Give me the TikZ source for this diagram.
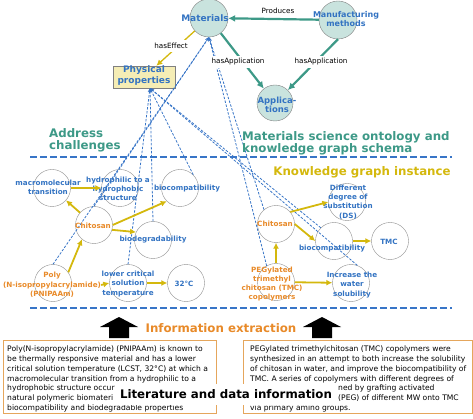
\documentclass[tikz,border=0pt]{standalone}
\usepackage{fontspec}
\setmainfont{DejaVu Sans}
\usetikzlibrary{arrows.meta,calc}
\definecolor{SchemaClr}{rgb}{0.24,0.6,0.53}
\definecolor{BlueTxt}{rgb}{0.2,0.45,0.76}
\definecolor{LinkClr}{rgb}{0.22,0.46,0.78}
\definecolor{OrangeTxt}{rgb}{0.91,0.54,0.16}
\definecolor{KgClr}{rgb}{0.83,0.72,0.05}
\definecolor{BubbleClr}{rgb}{0.79,0.89,0.87}
\definecolor{PropClr}{rgb}{0.96,0.93,0.71}
\definecolor{SrcClr}{rgb}{0.9,0.65,0.36}

\tikzset{
  schemanode/.style={circle,draw=gray,fill=BubbleClr,minimum size=38pt,inner sep=0pt},
  instnode/.style={circle,draw=gray!90,minimum size=37pt,inner sep=0pt},
  schematxt/.style={font=\bfseries\fontsize{8.5}{9.5}\selectfont,text=BlueTxt,align=center,inner sep=0pt},
  insttxt/.style={font=\bfseries\fontsize{7.2}{9.3}\selectfont,text=BlueTxt,align=center,inner sep=0pt},
  srctxt/.style={insttxt,text=OrangeTxt},
  relarrow/.style={-{Latex[length=7pt,width=7pt]},line width=2.2pt,SchemaClr},
  kgarrow/.style={-{Latex[length=6pt,width=6pt]},line width=1.8pt,KgClr},
  maplink/.style={-{Stealth[length=4pt,width=3.5pt]},LinkClr,line width=0.8pt,dash pattern=on 2.5pt off 1.5pt},
  sepline/.style={LinkClr,line width=1.5pt,dash pattern=on 7pt off 3pt},
  rellabel/.style={fill=white,inner xsep=1pt,inner ysep=3pt,font=\fontsize{7.2}{8}\selectfont},
  parttitle/.style={font=\bfseries\fontsize{11.8}{12.3}\selectfont,align=left,inner sep=0pt},
  srcbox/.style={draw=SrcClr,line width=0.9pt,anchor=north west,minimum height=73pt,inner sep=0pt},
  srcpara/.style={anchor=north west,align=left,inner sep=0pt,font=\fontsize{7.6}{9.7}\selectfont}
}

\begin{document}
\begin{tikzpicture}[x=1pt,y=-1pt]
\useasboundingbox (0,0) rectangle (473,419);

\node[schemanode] (mat) at (209,18) {};
\node[schemanode] (manu) at (338,20) {};
\node[schemanode,minimum size=36pt] (app) at (275,103) {};
\node[draw=gray,fill=PropClr,minimum width=62pt,minimum height=22pt,inner sep=0pt] (phys) at (144,77) {};
\coordinate (physIn) at ([xshift=6pt]phys.south);

\node[instnode] (macro) at (52,188) {};
\node[instnode] (hydro) at (120,188) {};
\node[instnode] (bioL) at (180,188) {};
\node[instnode] (chiL) at (94,225) {};
\node[instnode] (biodeg) at (153,240) {};
\node[instnode] (poly) at (53,283) {};
\node[instnode] (lcst) at (128,283) {};
\node[instnode] (deg) at (186,283) {};

\node[instnode] (dsub) at (347,202) {};
\node[instnode] (chiR) at (276,224) {};
\node[instnode] (bioR) at (334,241) {};
\node[instnode] (tmc) at (390,241) {};
\node[instnode] (peg) at (276,282) {};
\node[instnode] (solub) at (351,283) {};

\draw[maplink] (poly.north) -- (mat.south);
\draw[maplink] (chiL.north) -- (mat.south);
\draw[maplink] (chiR.130) -- (mat.south);
\draw[maplink] (peg.120) -- (mat.south);
\draw[maplink] (lcst.north) -- (physIn);
\draw[maplink] (biodeg.north) -- (physIn);
\draw[maplink] (bioL.north east) -- (physIn);
\draw[maplink] (bioR.north west) -- (physIn);
\draw[maplink] (solub.70) -- (physIn);

\draw[relarrow] (manu) -- (mat);
\draw[relarrow] (mat) -- (app);
\draw[relarrow] (manu.south) -- (app.north east);
\draw[-{Latex[length=6pt,width=6pt]},line width=1.3pt,KgClr] (mat) -- (phys);
\node[rellabel,fill=none] (produces) at (278,11) {Produces};
\node[rellabel] (hasEffect) at (171,46) {hasEffect};
\node[rellabel] (hasAppA) at (238,62) {hasApplication};
\node[rellabel] (hasAppB) at (321,62) {hasApplication};

\node[schematxt,font=\bfseries\fontsize{9}{10}\selectfont] (matT) at (205,18) {Materials};
\node[schematxt,font=\bfseries\fontsize{8}{9.5}\selectfont] (manuT) at (346,19) {Manufacturing\\methods};
\node[schematxt] (appT) at (277,105) {Applica-\\tions};
\node[schematxt,font=\bfseries\fontsize{9}{11}\selectfont] (physT) at (144,76) {Physical\\properties};

\node[parttitle,text=SchemaClr,anchor=north west] (addrT) at (49,128) {Address\\challenges};
\node[parttitle,text=SchemaClr,anchor=north west] (schemaT) at (242,131) {Materials science ontology and\\knowledge graph schema};
\draw[sepline] (30,157) -- (452,157);
\node[parttitle,text=KgClr] (instT) at (362,172) {Knowledge graph instance};

\node[insttxt] (macroT) at (48,187) {macromolecular\\transition};
\node[insttxt] (hydroT) at (118,189) {hydrophilic to a\\hydrophobic\\structure};
\node[insttxt] (bioLT) at (187,189) {biocompatibility};
\node[srctxt] (chiLT) at (93,226) {Chitosan};
\node[insttxt] (biodegT) at (153,240) {biodegradability};
\node[srctxt] (polyT) at (52,285) {Poly\\(N-isopropylacrylamide)\\(PNIPAAm)};
\node[insttxt] (lcstT) at (128,284) {lower critical\\solution\\temperature};
\node[insttxt] (degT) at (184,284) {32℃};

\node[insttxt] (dsubT) at (348,202) {Different\\degree of\\substitution\\(DS)};
\node[srctxt] (chiRT) at (275,224) {Chitosan};
\node[insttxt] (bioRT) at (332,249) {biocompatibility};
\node[insttxt] (tmcT) at (389,242) {TMC};
\node[srctxt] (pegT) at (272,284) {PEGylated\\trimethyl\\chitosan (TMC)\\copolymers};
\node[insttxt] (solubT) at (352,285) {Increase the\\water\\solubility};

\draw[kgarrow] (chiL) -- (macro);
\draw[kgarrow] (macro) -- (hydro);
\draw[kgarrow] (chiL.east) -- (bioL.south west);
\draw[kgarrow] (chiL.-15) -- (biodeg.155);
\draw[kgarrow] (poly.35) -- (chiL.230);
\draw[kgarrow] (polyT.east) -- (lcst.west);
\draw[kgarrow] (lcst) -- (deg);
\draw[kgarrow] (chiR.40) -- (dsub.west);
\draw[kgarrow] (chiR.east) -- (bioR.west);
\draw[kgarrow] (bioR) -- (tmc);
\draw[kgarrow] (peg) -- (chiR);
\draw[kgarrow] (peg) -- (solub);

\draw[sepline] (30,308) -- (452,308);
\node[parttitle,text=OrangeTxt] (extT) at (221,328) {Information extraction};
\foreach \ax in {119,322}
  \fill (\ax-19,327) -- (\ax,317) -- (\ax+19,327) -- (\ax+10,327) -- (\ax+10,338) -- (\ax-10,338) -- (\ax-10,327) -- cycle;

\node[srcbox,minimum width=213pt] (srcL) at (3,340) {};
\node[srcbox,minimum width=229pt] (srcR) at (243,340) {};
\node[srcpara] (srcLT) at ([xshift=4pt,yshift=-6pt]srcL.north west)
  {Poly(N-isopropylacrylamide) (PNIPAAm) is known to\\
   be thermally responsive material and has a lower\\
   critical solution temperature (LCST, 32°C) at which a\\
   macromolecular transition from a hydrophilic to a\\
   hydrophobic structure occur\\
   natural polymeric biomateri\\
   biocompatibility and biodegradable properties};
\node[srcpara] (srcRT) at ([xshift=7pt,yshift=-6pt]srcR.north west)
  {PEGylated trimethylchitosan (TMC) copolymers were\\
   synthesized in an attempt to both increase the solubility\\
   of chitosan in water, and improve the biocompatibility of\\
   TMC. A series of copolymers with different degrees of\\
   \hspace*{88pt}ned by grafting activated\\
   \hspace*{88pt}(PEG) of different MW onto TMC\\
   via primary amino groups.};
\node[fill=white,inner xsep=4pt,minimum height=21pt,font=\bfseries\fontsize{11.8}{12}\selectfont] (litT) at (226,394) {Literature and data information};
\end{tikzpicture}
\end{document}
